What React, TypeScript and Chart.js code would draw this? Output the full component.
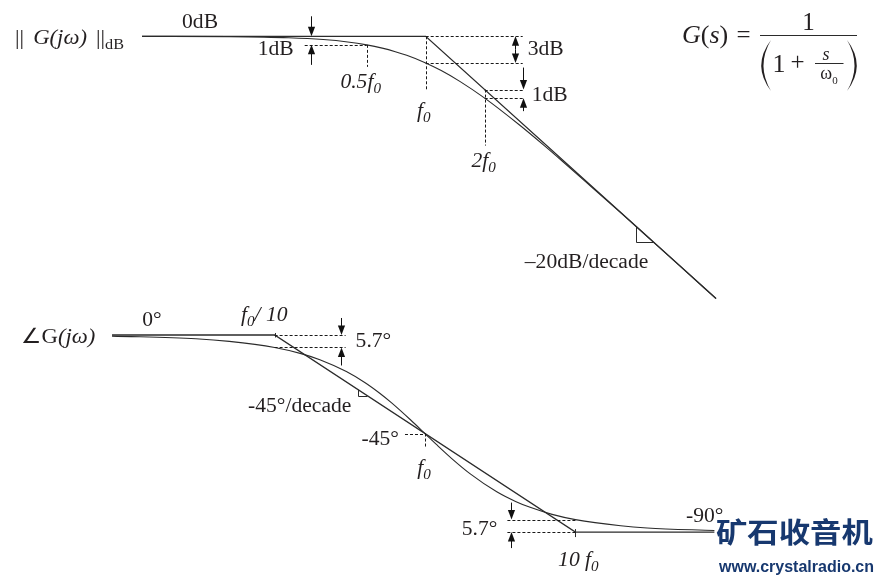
import React, { useEffect, useRef } from "react";
import { Chart, registerables } from "chart.js";

Chart.register(...registerables);

const W = 884;
const H = 579;

// ---------- Magnitude plot (frequency as f / f0, magnitude in dB) ----------
const magFreq = [0.0357, 0.1, 0.2, 0.3, 0.4, 0.5, 0.6, 0.7, 0.8, 1, 1.2, 1.5, 2, 3, 4, 5, 7, 10, 14, 20, 30.3];
const magDb = [0, -0.04, -0.17, -0.37, -0.64, -0.97, -1.34, -1.74, -2.15, -3.01, -3.87, -5.12, -6.99, -10.0, -12.3, -14.15, -17.0, -20.04, -22.94, -26.03, -29.65];
const magAsymFreq = [0.0357, 1, 30.3];
const magAsymDb = [0, 0, -29.63];

// ---------- Phase plot (frequency as f / f0, phase in degrees) ----------
const phFreq = [0.0083, 0.03, 0.05, 0.1, 0.15, 0.2, 0.3, 0.4, 0.5, 0.6, 0.8, 1, 1.2, 1.5, 2, 3, 4, 5, 7, 10, 20, 30, 84];
const phDeg = [-0.5, -1.7, -2.9, -5.7, -8.5, -11.3, -16.7, -21.8, -26.6, -31.0, -38.7, -45, -50.2, -56.3, -63.4, -71.6, -76.0, -78.7, -81.9, -84.3, -87.1, -88.1, -89.3];
const phAsymFreq = [0.0083, 0.1, 10, 84];
const phAsymDeg = [0, 0, -90, -90];

// ---------- Marked values ----------
const magMarkFreq = [0.5, 1, 2];
const magMarkCurveDb = [-0.97, -3.01, -6.99];
const magMarkAsymDb = [0, 0, -6.02];
const magSlopeMarkFreq = 11.8;
const phMarkFreq = [0.1, 1, 10];
const phMarkCurveDeg = [-5.7, -45, -84.3];
const phMarkAsymDeg = [0, -45, -90];
const phSlopeMarkFreq = 0.36;

// ---------- Axis ranges (hidden axes, mapped onto the whole canvas) ----------
const XM_MIN = Math.pow(10, -2.172);
const XM_MAX = Math.pow(10, 2.3383);
const YM_MIN = -61.32;
const YM_MAX = 4.1;
const XP_MIN = Math.pow(10, -2.8258);
const XP_MAX = Math.pow(10, 3.0519);
const YP_MIN = -111.42;
const YP_MAX = 152.97;

const INK = "#231f20";
const LINE = "#2b2b2b";
const SERIF = '"Liberation Serif", "Times New Roman", serif';
const SANS = '"Liberation Sans", Arial, sans-serif';
const CJK = '"Noto Sans CJK SC", sans-serif';

type Part = { t: string; it?: boolean; sub?: boolean; size?: number };

function drawText(
  ctx: CanvasRenderingContext2D,
  parts: Part[],
  x: number,
  y: number,
  align: "left" | "center" | "right" = "left",
  size = 20,
  color = INK,
  family = SERIF,
  sx = 1.08,
  bold = false
) {
  const fontOf = (p: Part) =>
    `${p.it ? "italic " : ""}${bold ? "bold " : ""}${p.size ?? (p.sub ? Math.round(size * 0.7) : size)}px ${family}`;
  let w = 0;
  const widths = parts.map((p) => {
    ctx.font = fontOf(p);
    const m = ctx.measureText(p.t).width * sx;
    w += m;
    return m;
  });
  let cx = align === "left" ? x : align === "center" ? x - w / 2 : x - w;
  parts.forEach((p, i) => {
    ctx.save();
    ctx.font = fontOf(p);
    ctx.fillStyle = color;
    ctx.textAlign = "left";
    ctx.textBaseline = "alphabetic";
    const dy = p.sub ? size * 0.25 : 0;
    ctx.translate(cx, y + dy);
    ctx.scale(sx, 1);
    ctx.fillText(p.t, 0, 0);
    ctx.restore();
    cx += widths[i];
  });
}

const hp = (v: number) => Math.round(v) + 0.5;

function dashed(ctx: CanvasRenderingContext2D, x1: number, y1: number, x2: number, y2: number) {
  ctx.save();
  ctx.setLineDash([3, 2]);
  ctx.lineWidth = 1;
  ctx.strokeStyle = "#1a1a1a";
  ctx.beginPath();
  if (y1 === y2) {
    ctx.moveTo(x1, hp(y1));
    ctx.lineTo(x2, hp(y2));
  } else if (x1 === x2) {
    ctx.moveTo(hp(x1), y1);
    ctx.lineTo(hp(x2), y2);
  } else {
    ctx.moveTo(x1, y1);
    ctx.lineTo(x2, y2);
  }
  ctx.stroke();
  ctx.restore();
}

function solid(ctx: CanvasRenderingContext2D, pts: [number, number][], width = 1) {
  ctx.save();
  ctx.setLineDash([]);
  ctx.lineWidth = width;
  ctx.strokeStyle = LINE;
  ctx.beginPath();
  pts.forEach(([x, y], i) => (i === 0 ? ctx.moveTo(x, y) : ctx.lineTo(x, y)));
  ctx.stroke();
  ctx.restore();
}

function arrow(ctx: CanvasRenderingContext2D, x: number, from: number, tip: number) {
  const dir = Math.sign(tip - from);
  const X = hp(x);
  ctx.save();
  ctx.strokeStyle = "#111";
  ctx.fillStyle = "#111";
  ctx.lineWidth = 1;
  ctx.beginPath();
  ctx.moveTo(X, from);
  ctx.lineTo(X, tip - dir * 8);
  ctx.stroke();
  ctx.beginPath();
  ctx.moveTo(X, tip);
  ctx.lineTo(X - 3.6, tip - dir * 9.5);
  ctx.lineTo(X + 3.6, tip - dir * 9.5);
  ctx.closePath();
  ctx.fill();
  ctx.restore();
}

function paren(ctx: CanvasRenderingContext2D, tx: number, top: number, bot: number, outer: number, inner: number) {
  const mid = (top + bot) / 2;
  ctx.save();
  ctx.fillStyle = INK;
  ctx.beginPath();
  ctx.moveTo(tx, top);
  ctx.quadraticCurveTo(outer, mid, tx, bot);
  ctx.quadraticCurveTo(inner, mid, tx, top);
  ctx.closePath();
  ctx.fill();
  ctx.restore();
}

// right-angle mark under a straight asymptote segment a-b, at x = xc
function rightAngle(ctx: CanvasRenderingContext2D, a: [number, number], b: [number, number], xc: number, drop: number) {
  const slope = (b[1] - a[1]) / (b[0] - a[0]);
  const yl = a[1] + (xc - a[0]) * slope;
  const yc = yl + drop;
  const xe = a[0] + (yc - a[1]) / slope;
  solid(ctx, [
    [hp(xc), yl],
    [hp(xc), hp(yc)],
    [xe, hp(yc)],
  ]);
}

const annotations = {
  id: "bodeAnnotations",
  afterDatasetsDraw(chart: any) {
    const ctx: CanvasRenderingContext2D = chart.ctx;
    const { xm, ym, xp, yp } = chart.scales;
    const mx = (f: number) => xm.getPixelForValue(f);
    const my = (d: number) => ym.getPixelForValue(d);
    const px = (f: number) => xp.getPixelForValue(f);
    const py = (d: number) => yp.getPixelForValue(d);

    // ----- magnitude plot -----
    const y0 = my(0);
    drawText(
      ctx,
      [{ t: "||\u2009\u2009" }, { t: "G(jω)", it: true }, { t: "\u2009\u2009||" }, { t: "dB", sub: true, size: 15 }],
      15,
      44,
      "left",
      21
    );
    drawText(ctx, [{ t: "0dB" }], mx(magAsymFreq[0]) + 40, 28, "left");

    // 0.5 f0 : 1 dB
    const f05 = mx(magMarkFreq[0]);
    const c05 = my(magMarkCurveDb[0]);
    dashed(ctx, f05 - 62, c05, f05, c05);
    dashed(ctx, f05, c05, f05, c05 + 22);
    arrow(ctx, f05 - 56, y0 - 20, y0);
    arrow(ctx, f05 - 56, c05 + 20, c05);
    drawText(ctx, [{ t: "1dB" }], f05 - 73, 55, "right");
    drawText(ctx, [{ t: "0.5", it: true }, { t: "f", it: true }, { t: "0", it: true, sub: true }], f05 - 6, 88, "center");

    // f0 : 3 dB
    const f1 = mx(magMarkFreq[1]);
    const c1 = my(magMarkCurveDb[1]);
    dashed(ctx, f1, my(magMarkAsymDb[1]), f1, y0 + 55);
    dashed(ctx, f1, y0, f1 + 97, y0);
    dashed(ctx, f1, c1, f1 + 97, c1);
    const am = (y0 + c1) / 2;
    arrow(ctx, f1 + 89, am, y0);
    arrow(ctx, f1 + 89, am, c1);
    drawText(ctx, [{ t: "f", it: true }, { t: "0", it: true, sub: true }], f1 - 2, 117, "center");
    drawText(ctx, [{ t: "3dB" }], f1 + 102, 55, "left");

    // 2 f0 : 1 dB
    const f2 = mx(magMarkFreq[2]);
    const a2 = my(magMarkAsymDb[2]);
    const c2 = my(magMarkCurveDb[2]);
    dashed(ctx, f2, a2, f2 + 40, a2);
    dashed(ctx, f2, c2, f2 + 40, c2);
    dashed(ctx, f2, a2, f2, a2 + 56);
    arrow(ctx, f2 + 38, a2 - 22, a2);
    arrow(ctx, f2 + 38, c2 + 13, c2);
    drawText(ctx, [{ t: "1dB" }], f2 + 47, 100.5, "left");
    drawText(ctx, [{ t: "2", it: true }, { t: "f", it: true }, { t: "0", it: true, sub: true }], f2 - 1, 167, "center");

    // slope mark
    const ma: [number, number] = [mx(magAsymFreq[1]), my(magAsymDb[1])];
    const mb: [number, number] = [mx(magAsymFreq[2]), my(magAsymDb[2])];
    const xs = mx(magSlopeMarkFreq);
    rightAngle(ctx, ma, mb, xs, 16);
    drawText(ctx, [{ t: "–20dB/decade" }], xs - 111, 268, "left");

    // transfer function
    drawText(ctx, [{ t: "G", it: true }, { t: "(" }, { t: "s", it: true }, { t: ")" }], 682, 43, "left", 25, INK, SERIF, 1.04);
    drawText(ctx, [{ t: "=" }], 743.5, 43, "center", 25, INK, SERIF, 1.0);
    drawText(ctx, [{ t: "1" }], 808.5, 30, "center", 25, INK, SERIF, 1.0);
    solid(ctx, [
      [760, 35.5],
      [857, 35.5],
    ], 1.2);
    paren(ctx, 771, 40, 91, 751.5, 756);
    paren(ctx, 847, 40, 91, 866.5, 862);
    drawText(ctx, [{ t: "1" }], 779, 72, "center", 26, INK, SERIF, 1.0);
    drawText(ctx, [{ t: "+" }], 797.5, 70, "center", 25, INK, SERIF, 1.0);
    drawText(ctx, [{ t: "s", it: true }], 826, 60, "center", 18, INK, SERIF, 1.0);
    solid(ctx, [
      [815, 63.5],
      [843.5, 63.5],
    ], 1);
    drawText(ctx, [{ t: "ω" }, { t: "0", sub: true, size: 11 }], 829, 79, "center", 18, INK, SERIF, 1.0);

    // ----- phase plot -----
    drawText(ctx, [{ t: "∠G" }, { t: "(jω)", it: true }], 21, 343, "left", 21);
    drawText(ctx, [{ t: "0°" }], 152, 326, "center");
    drawText(ctx, [{ t: "f", it: true }, { t: "0", it: true, sub: true }, { t: "/ 10", it: true }], 241, 321, "left");

    const yq0 = py(0);
    const p01 = px(phMarkFreq[0]);
    const q01 = py(phMarkCurveDeg[0]);
    solid(ctx, [
      [hp(p01), yq0 - 2],
      [hp(p01), yq0 + 2.5],
    ]);
    dashed(ctx, p01, py(phMarkAsymDeg[0]), p01 + 71, py(phMarkAsymDeg[0]));
    dashed(ctx, p01, q01, p01 + 71, q01);
    arrow(ctx, p01 + 66, yq0 - 17, yq0);
    arrow(ctx, p01 + 66, q01 + 18, q01);
    drawText(ctx, [{ t: "5.7°" }], p01 + 81, 346.5, "left");

    const pa: [number, number] = [px(phAsymFreq[1]), py(phAsymDeg[1])];
    const pb: [number, number] = [px(phAsymFreq[2]), py(phAsymDeg[2])];
    rightAngle(ctx, pa, pb, px(phSlopeMarkFreq), 6);
    drawText(ctx, [{ t: "-45°/decade" }], 248, 411.5, "left");

    const p1 = px(phMarkFreq[1]);
    const q1 = py(phMarkCurveDeg[1]);
    dashed(ctx, p1 - 20, q1, p1, q1);
    dashed(ctx, p1, q1, p1, q1 + 13);
    drawText(ctx, [{ t: "-45°" }], p1 - 26, 445, "right");
    drawText(ctx, [{ t: "f", it: true }, { t: "0", it: true, sub: true }], p1 - 1, 474, "center");

    const p10 = px(phMarkFreq[2]);
    const q10 = py(phMarkCurveDeg[2]);
    const q90 = py(phMarkAsymDeg[2]);
    solid(ctx, [
      [hp(p10), q90 - 3],
      [hp(p10), q90 + 5],
    ]);
    dashed(ctx, p10 - 68, q10, p10, q10);
    dashed(ctx, p10 - 68, q90, p10, q90);
    arrow(ctx, p10 - 64, q10 - 17, q10);
    arrow(ctx, p10 - 64, q90 + 16, q90);
    drawText(ctx, [{ t: "5.7°" }], p10 - 78, 535, "right");
    drawText(ctx, [{ t: "10 f", it: true }, { t: "0", it: true, sub: true }], p10 + 3, 566, "center");
    drawText(ctx, [{ t: "-90°" }], 686, 521.5, "left");

    // watermark
    drawText(ctx, [{ t: "矿石收音机" }], 716, 543, "left", 28, "#17386f", CJK, 1.12, true);
    drawText(ctx, [{ t: "www.crystalradio.cn" }], 719, 572, "left", 16, "#17386f", SANS, 1.0, true);
  },
};

const toPts = (xs: number[], ys: number[]) => xs.map((x, i) => ({ x, y: ys[i] }));

export default function App() {
  const ref = useRef<HTMLCanvasElement | null>(null);

  useEffect(() => {
    if (!ref.current) return;
    const base = { showLine: true, pointRadius: 0, borderColor: LINE, fill: false };
    const chart = new Chart(ref.current, {
      type: "scatter",
      data: {
        datasets: [
          { ...base, data: toPts(magFreq, magDb), xAxisID: "xm", yAxisID: "ym", borderWidth: 1.1, cubicInterpolationMode: "monotone" } as any,
          { ...base, data: toPts(magAsymFreq, magAsymDb), xAxisID: "xm", yAxisID: "ym", borderWidth: 1.3, tension: 0 } as any,
          { ...base, data: toPts(phFreq, phDeg), xAxisID: "xp", yAxisID: "yp", borderWidth: 1.1, cubicInterpolationMode: "monotone" } as any,
          { ...base, data: toPts(phAsymFreq, phAsymDeg), xAxisID: "xp", yAxisID: "yp", borderWidth: 1.3, tension: 0 } as any,
        ],
      },
      options: {
        animation: false,
        responsive: false,
        devicePixelRatio: 1,
        events: [],
        layout: { padding: 0 },
        plugins: { legend: { display: false }, tooltip: { enabled: false }, title: { display: false } },
        scales: {
          xm: { type: "logarithmic", display: false, bounds: "data", min: XM_MIN, max: XM_MAX },
          ym: { type: "linear", display: false, bounds: "data", min: YM_MIN, max: YM_MAX },
          xp: { type: "logarithmic", display: false, bounds: "data", min: XP_MIN, max: XP_MAX },
          yp: { type: "linear", display: false, bounds: "data", min: YP_MIN, max: YP_MAX },
        },
      } as any,
      plugins: [annotations],
    });
    return () => chart.destroy();
  }, []);

  return (
    <div style={{ position: "fixed", left: 0, top: 0, width: W, height: H, background: "#fff" }}>
      <canvas ref={ref} width={W} height={H} style={{ display: "block", width: W, height: H }} />
    </div>
  );
}
